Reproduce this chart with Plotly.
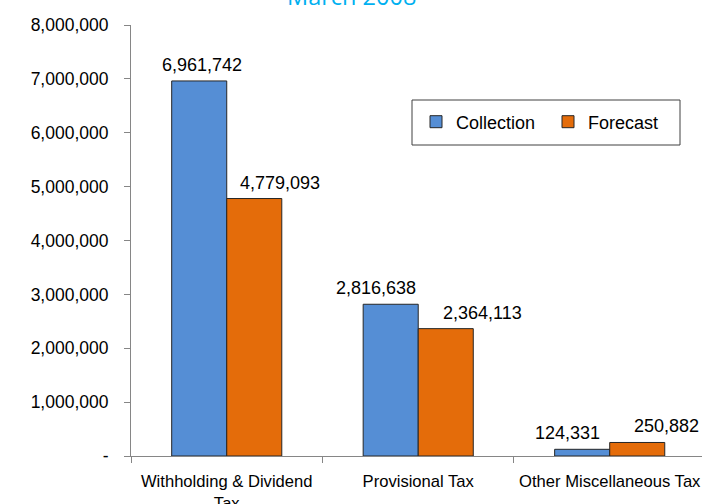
import plotly.graph_objects as go

categories = ["Withholding & Dividend<br>Tax", "Provisional Tax", "Other Miscellaneous Tax"]
collection = [6961742, 2816638, 124331]
forecast = [4779093, 2364113, 250882]
y_tickvals = [0, 1000000, 2000000, 3000000, 4000000, 5000000, 6000000, 7000000, 8000000]
y_ticktext = ["-", "1,000,000", "2,000,000", "3,000,000", "4,000,000", "5,000,000",
              "6,000,000", "7,000,000", "8,000,000"]

# label placement (style): horizontal pixel shift of each data label from its category centre
collection_label_shift = [-25, -42, -42]
forecast_label_shift = [53, 64, 57]

FONT = "Liberation Sans, Arial, sans-serif"
L, R_PX, T, B = 131, 702, 25, 456
PW, PH = R_PX - L, B - T


def px_x(p):
    return (p - L) / PW


def px_y(p):
    return (B - p) / PH


fig = go.Figure()
fig.add_trace(go.Bar(
    name="Collection", x=categories, y=collection,
    marker=dict(color="#558ED5", line=dict(color="#262626", width=1)),
))
fig.add_trace(go.Bar(
    name="Forecast", x=categories, y=forecast,
    marker=dict(color="#E46C0A", line=dict(color="#262626", width=1)),
))

for cat, v, s in zip(categories, collection, collection_label_shift):
    fig.add_annotation(x=cat, y=v, xref="x", yref="y", text=f"{v:,}", showarrow=False,
                       xanchor="center", yanchor="bottom", xshift=s, yshift=4,
                       font=dict(size=18, color="black", family=FONT))
for cat, v, s in zip(categories, forecast, forecast_label_shift):
    fig.add_annotation(x=cat, y=v, xref="x", yref="y", text=f"{v:,}", showarrow=False,
                       xanchor="center", yanchor="bottom", xshift=s, yshift=4,
                       font=dict(size=18, color="black", family=FONT))

# title (partly above the top edge, as in the reference)
fig.add_annotation(x=px_x(351), y=px_y(-4), xref="paper", yref="paper", text="March 2008",
                   showarrow=False, xanchor="center", yanchor="middle",
                   font=dict(size=23.5, color="#00B0F0", family="Open Sans, sans-serif"))

# legend frame
fig.add_shape(type="rect", xref="paper", yref="paper",
              x0=px_x(412), x1=px_x(680), y0=px_y(145), y1=px_y(100),
              line=dict(color="#404040", width=1), fillcolor="white", layer="below")

fig.update_layout(
    width=702, height=504,
    margin=dict(l=L, r=0, t=T, b=504 - B, autoexpand=False),
    paper_bgcolor="white", plot_bgcolor="white",
    font=dict(family=FONT, color="black"),
    barmode="group", bargap=0.425, bargroupgap=0,
    showlegend=True,
    legend=dict(
        orientation="h", x=px_x(416), y=px_y(122), xanchor="left", yanchor="middle",
        borderwidth=0, bgcolor="rgba(0,0,0,0)",
        font=dict(size=18, family=FONT), itemwidth=30, entrywidth=87,
    ),
)
fig.update_yaxes(
    range=[0, 8000000], tickvals=y_tickvals, ticktext=y_ticktext,
    showgrid=False, zeroline=False, showline=True, linecolor="#868686", linewidth=1,
    ticks="outside", ticklen=6, tickcolor="#868686",
    tickfont=dict(size=17.5, family=FONT, color="black"), ticklabelstandoff=12,
    automargin=False,
)
fig.update_xaxes(
    range=[-0.5, 2.482], type="category",
    showgrid=False, showline=True, linecolor="#868686", linewidth=1,
    ticks="outside", ticklen=6, tickcolor="#868686", tickson="boundaries",
    tickfont=dict(size=16.6, family=FONT, color="black"), tickangle=0,
    ticklabelstandoff=10, automargin=False,
)

fig.write_html("out.html", config={"displayModeBar": False},
               post_script="document.body.style.margin='0px';")
